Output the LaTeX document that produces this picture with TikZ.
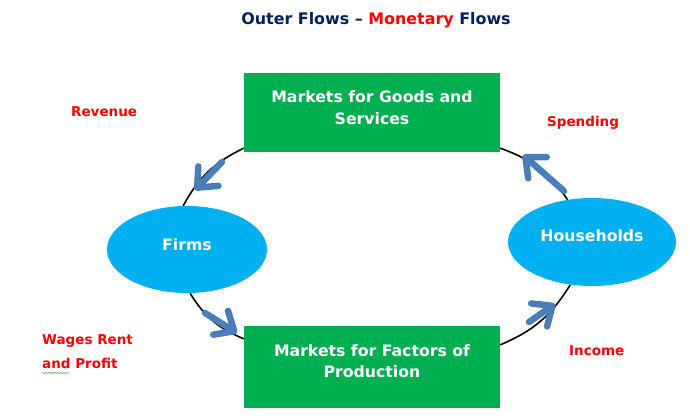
\documentclass[tikz,border=0pt]{standalone}
\usepackage{fontspec}
\setmainfont{DejaVu Sans}
\usetikzlibrary{arrows.meta,shapes.geometric,calc,decorations.pathmorphing}
\pgfdeclarelayer{background}
\pgfsetlayers{background,main}
\definecolor{boxgreen}{HTML}{00B050}
\definecolor{ellblue}{HTML}{00B0F0}
\definecolor{arrblue}{HTML}{4A7EBB}
\definecolor{navy}{HTML}{002060}
\definecolor{lblred}{HTML}{FF0000}
\tikzset{
  market/.style={rectangle,fill=boxgreen,minimum width=256pt,inner sep=0pt},
  agent/.style={ellipse,fill=ellblue,inner sep=0pt},
  intext/.style={text=white,font=\fontsize{15.7}{21.5}\selectfont\bfseries,align=center,inner sep=0pt},
  flowlabel/.style={text=lblred,font=\fontsize{13.5}{24}\selectfont\bfseries,inner sep=0pt},
  circuit/.style={black,line width=1.6pt},
  bigarrow/.style={arrblue,line width=6.5pt,line cap=round,
    -{Straight Barb[length=16pt 0 0,width=28pt 0 0,round]}},
}
\begin{document}
\begin{tikzpicture}[x=1pt,y=-1pt]
\useasboundingbox (0,0) rectangle (690,419);
% title
\node[inner sep=0pt,font=\fontsize{15.9}{18}\selectfont\bfseries] (title) at (376,20)
  {\textcolor{navy}{Outer Flows –} \textcolor{lblred}{Monetary} \textcolor{navy}{Flows}};
% nodes
\node[market,minimum height=79pt,
  label={[intext,yshift=5pt]center:Markets for Goods and\\Services}] (goods) at (372,112.5) {};
\node[market,minimum height=82pt,
  label={[intext,yshift=6pt]center:Markets for Factors of\\Production}] (factors) at (372,367) {};
\node[agent,minimum width=160pt,minimum height=87pt,
  label={[intext,yshift=5pt]center:Firms}] (firms) at (187,249.5) {};
\node[agent,minimum width=168pt,minimum height=88pt,
  label={[intext,yshift=6pt]center:Households}] (house) at (592,242) {};
% circuit arcs (behind)
\begin{pgfonlayer}{background}
\draw[circuit] (firms.95) to[bend left=18] ($(goods.south west)+(0,-4)$);
\draw[circuit] (firms.-86) to[bend right=18] ($(factors.north west)+(0,13)$);
\draw[circuit] ($(factors.north east)+(0,19)$) to[bend right=18] (house.-117);
\draw[circuit] (house.120) to[bend right=18] ($(goods.south east)+(0,-4)$);
\end{pgfonlayer}
% thick flow arrows
\coordinate (a1s) at (222,162); \coordinate (a1e) at (195,190);
\coordinate (a2s) at (564,191); \coordinate (a2e) at (523,155);
\coordinate (a3s) at (205,313); \coordinate (a3e) at (237,333);
\coordinate (a4s) at (529,322); \coordinate (a4e) at (555,304);
\draw[bigarrow] (a1s) -- (a1e);
\draw[bigarrow] (a2s) -- (a2e);
\draw[bigarrow] (a3s) -- (a3e);
\draw[bigarrow] (a4s) -- (a4e);
% labels
\node[flowlabel,anchor=west] (rev) at (71,112) {Revenue};
\node[flowlabel,anchor=west] (spend) at (547,123) {Spending};
\node[flowlabel,anchor=west] (inc) at (569,351) {Income};
\node[flowlabel,anchor=north west,align=left] (wages) at (42,334) {Wages Rent\\and Profit};
\coordinate (sq1) at (42,373); \coordinate (sq2) at (69,373);
\draw[green!60!black!60,line width=0.6pt,decorate,decoration={snake,amplitude=0.8pt,segment length=3pt}] (sq1) -- (sq2);
\end{tikzpicture}
\end{document}
